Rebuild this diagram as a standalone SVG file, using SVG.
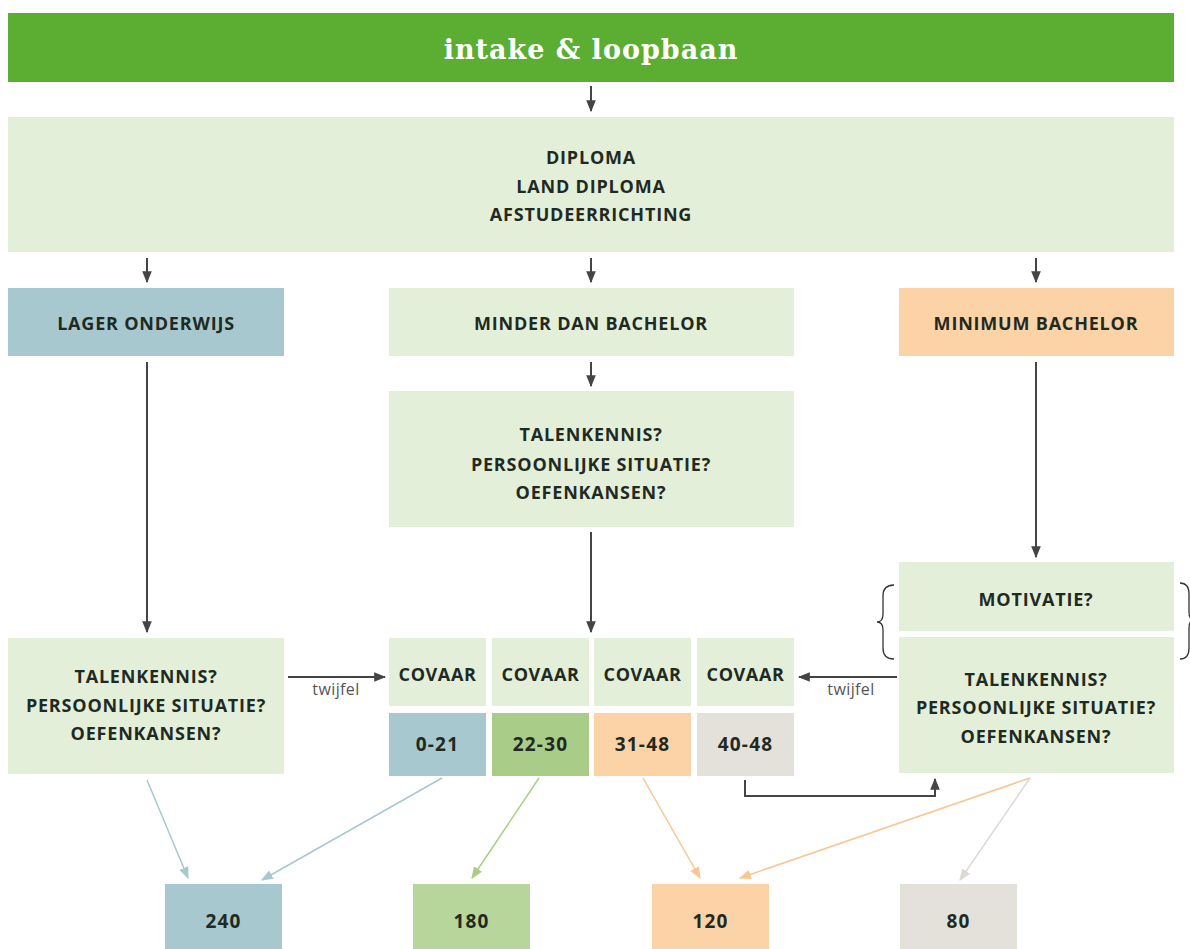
<svg xmlns="http://www.w3.org/2000/svg" width="1190" height="949" viewBox="0 0 1190 949">
<defs>
<style>
.t{font-family:"Open Sans","Noto Sans",sans-serif;font-weight:700;font-size:18px;letter-spacing:0.8px;fill:#1f2a22;text-anchor:middle}
.n{font-family:"Open Sans","Noto Sans",sans-serif;font-weight:700;font-size:18px;letter-spacing:0.6px;fill:#1f2a22;text-anchor:middle}
.v{font-family:"Open Sans","Noto Sans",sans-serif;font-weight:700;font-size:19px;letter-spacing:1.2px;fill:#1f2a22;text-anchor:middle}
.lg{fill:#e4efda}
.bl{fill:#a8c8cf}
.pe{fill:#fcd3a7}
.gr{fill:#e4e1db}
.g2{fill:#a9cd88}
.g3{fill:#b6d69b}
.k{stroke:#444;stroke-width:2;fill:none}
.lbl{font-family:"Open Sans","Noto Sans",sans-serif;font-size:16px;letter-spacing:0.4px;fill:#555;text-anchor:middle}
</style>
<marker id="ak" viewBox="0 0 10 10" refX="9" refY="5" markerWidth="6" markerHeight="6" orient="auto"><path d="M0,1 L10,5 L0,9 z" fill="#444"/></marker>
<marker id="ab" viewBox="0 0 10 10" refX="9" refY="5" markerWidth="8" markerHeight="8" orient="auto"><path d="M0,1 L10,5 L0,9 z" fill="#a8c8cf"/></marker>
<marker id="ag" viewBox="0 0 10 10" refX="9" refY="5" markerWidth="8" markerHeight="8" orient="auto"><path d="M0,1 L10,5 L0,9 z" fill="#a9cd88"/></marker>
<marker id="ao" viewBox="0 0 10 10" refX="9" refY="5" markerWidth="8" markerHeight="8" orient="auto"><path d="M0,1 L10,5 L0,9 z" fill="#f8c690"/></marker>
<marker id="ay" viewBox="0 0 10 10" refX="9" refY="5" markerWidth="8" markerHeight="8" orient="auto"><path d="M0,1 L10,5 L0,9 z" fill="#dcd9d3"/></marker>
</defs>
<rect width="1190" height="949" fill="#fff"/>

<g id="header"><rect x="8" y="13" width="1166" height="69" fill="#5bae31"/>
<text x="591" y="59" font-family="'DejaVu Serif',serif" font-weight="700" font-size="27" letter-spacing="1" fill="#fff" text-anchor="middle">intake &amp; loopbaan</text></g>

<g id="diploma"><rect class="lg" x="8" y="117" width="1166" height="135"/>
<text class="t" x="591" y="164">DIPLOMA</text><text class="t" x="591" y="193">LAND DIPLOMA</text><text class="t" x="591" y="221">AFSTUDEERRICHTING</text></g>

<g id="lager"><rect class="bl" x="8" y="288" width="276" height="68"/><text class="t" x="146" y="330">LAGER ONDERWIJS</text></g>
<g id="minder"><rect class="lg" x="389" y="288" width="405" height="68"/><text class="t" x="591" y="330">MINDER DAN BACHELOR</text></g>
<g id="minimum"><rect class="pe" x="899" y="288" width="275" height="68"/><text class="t" x="1036" y="330">MINIMUM BACHELOR</text></g>

<g id="mid-vragen"><rect class="lg" x="389" y="391" width="405" height="136"/>
<text class="t" x="591" y="441">TALENKENNIS?</text><text class="t" x="591" y="471">PERSOONLIJKE SITUATIE?</text><text class="t" x="591" y="499">OEFENKANSEN?</text></g>

<g id="motivatie"><rect class="lg" x="899" y="562" width="275" height="69"/><text class="t" x="1036" y="606">MOTIVATIE?</text></g>
<g id="right-vragen"><rect class="lg" x="899" y="637" width="275" height="136"/>
<text class="t" x="1036" y="686">TALENKENNIS?</text><text class="t" x="1036" y="714">PERSOONLIJKE SITUATIE?</text><text class="t" x="1036" y="743">OEFENKANSEN?</text></g>
<g id="braces" stroke="#333" stroke-width="1.3" fill="none">
<path d="M894,585 Q883,585 883,596 L883,614 Q883,622 877,622 Q883,622 883,630 L883,648 Q883,659 894,659"/>
<path d="M1180,583 Q1189,583 1189,594 L1189,612 Q1189,620 1194,620 Q1189,620 1189,628 L1189,648 Q1189,659 1180,659"/>
</g>

<g id="left-vragen"><rect class="lg" x="8" y="638" width="276" height="136"/>
<text class="t" x="146" y="683">TALENKENNIS?</text><text class="t" x="146" y="712">PERSOONLIJKE SITUATIE?</text><text class="t" x="146" y="740">OEFENKANSEN?</text></g>

<g id="covaar1"><rect class="lg" x="389" y="638" width="97" height="68"/><text class="n" x="437.5" y="681">COVAAR</text></g>
<g id="covaar2"><rect class="lg" x="492" y="638" width="97" height="68"/><text class="n" x="540.5" y="681">COVAAR</text></g>
<g id="covaar3"><rect class="lg" x="594" y="638" width="97" height="68"/><text class="n" x="642.5" y="681">COVAAR</text></g>
<g id="covaar4"><rect class="lg" x="697" y="638" width="97" height="68"/><text class="n" x="745.5" y="681">COVAAR</text></g>
<g id="s0-21"><rect class="bl" x="389" y="713" width="97" height="63"/><text class="v" x="437.5" y="751">0-21</text></g>
<g id="s22-30"><rect class="g2" x="492" y="713" width="97" height="63"/><text class="v" x="540.5" y="751">22-30</text></g>
<g id="s31-48"><rect class="pe" x="594" y="713" width="97" height="63"/><text class="v" x="642.5" y="751">31-48</text></g>
<g id="s40-48"><rect class="gr" x="697" y="713" width="97" height="63"/><text class="v" x="745.5" y="751">40-48</text></g>

<g id="u240"><rect class="bl" x="165" y="884" width="117" height="65"/><text class="v" x="223.5" y="928">240</text></g>
<g id="u180"><rect class="g3" x="413" y="884" width="117" height="65"/><text class="v" x="471.5" y="928">180</text></g>
<g id="u120"><rect class="pe" x="652" y="884" width="117" height="65"/><text class="v" x="710.5" y="928">120</text></g>
<g id="u80"><rect class="gr" x="900" y="884" width="117" height="65"/><text class="v" x="958.5" y="928">80</text></g>

<g id="connectors">
<line class="k" x1="591" y1="86" x2="591" y2="111" marker-end="url(#ak)"/>
<line class="k" x1="147" y1="258" x2="147" y2="282" marker-end="url(#ak)"/>
<line class="k" x1="591" y1="258" x2="591" y2="282" marker-end="url(#ak)"/>
<line class="k" x1="1036" y1="258" x2="1036" y2="282" marker-end="url(#ak)"/>
<line class="k" x1="591" y1="362" x2="591" y2="386" marker-end="url(#ak)"/>
<line class="k" x1="147" y1="362" x2="147" y2="632" marker-end="url(#ak)"/>
<line class="k" x1="591" y1="532" x2="591" y2="632" marker-end="url(#ak)"/>
<line class="k" x1="1036" y1="362" x2="1036" y2="557" marker-end="url(#ak)"/>
<line class="k" x1="288" y1="677" x2="385" y2="677" stroke="#666" marker-end="url(#ak)"/>
<text class="lbl" x="336" y="695">twijfel</text>
<line class="k" x1="897" y1="677" x2="799" y2="677" stroke="#666" marker-end="url(#ak)"/>
<text class="lbl" x="851" y="695">twijfel</text>
<polyline class="k" points="745,780 745,796 935,796 935,779" marker-end="url(#ak)"/>
<line x1="147" y1="780" x2="188" y2="878" stroke="#a8c8cf" stroke-width="1.5" marker-end="url(#ab)"/>
<line x1="442" y1="778" x2="262" y2="880" stroke="#a8c8cf" stroke-width="1.5" marker-end="url(#ab)"/>
<line x1="539" y1="778" x2="472" y2="878" stroke="#a9cd88" stroke-width="1.5" marker-end="url(#ag)"/>
<line x1="643" y1="778" x2="700" y2="878" stroke="#f8c690" stroke-width="1.5" marker-end="url(#ao)"/>
<line x1="1030" y1="778" x2="740" y2="878" stroke="#f8c690" stroke-width="1.5" marker-end="url(#ao)"/>
<line x1="1030" y1="778" x2="960" y2="880" stroke="#dcd9d3" stroke-width="1.5" marker-end="url(#ay)"/>
</g>
</svg>
